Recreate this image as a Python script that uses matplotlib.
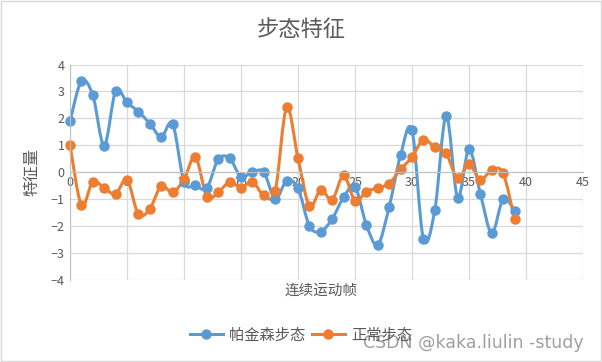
import numpy as np
import matplotlib
matplotlib.use("Agg")
import matplotlib.pyplot as plt
from matplotlib.path import Path
from matplotlib.patches import PathPatch, Rectangle
from matplotlib.lines import Line2D

plt.rcParams["font.family"] = ["Noto Sans CJK SC", "DejaVu Sans"]

frames = list(range(40))
parkinson = [1.90, 3.38, 2.86, 0.99, 3.01, 2.59, 2.25, 1.81, 1.31, 1.80,
             -0.35, -0.49, -0.59, 0.48, 0.52, -0.17, 0.02, 0.00, -0.99, -0.32,
             -0.59, -1.99, -2.20, -1.73, -0.93, -0.53, -1.96, -2.69, -1.28, 0.64,
             1.56, -2.47, -1.41, 2.10, -0.94, 0.86, -0.80, -2.26, -0.99, -1.42]
normal = [1.01, -1.22, -0.35, -0.59, -0.80, -0.28, -1.56, -1.36, -0.51, -0.75,
          -0.26, 0.57, -0.90, -0.75, -0.36, -0.57, -0.35, -0.86, -0.69, 2.41,
          0.52, -1.25, -0.65, -1.02, -0.12, -1.05, -0.72, -0.58, -0.42, 0.11,
          0.56, 1.21, 0.93, 0.70, -0.23, 0.30, -0.28, 0.09, -0.04, -1.75]
series_names = ["帕金森步态", "正常步态"]
colors = ["#5B9BD5", "#ED7D31"]
x_ticks = [0, 5, 10, 15, 20, 25, 30, 35, 40, 45]
y_ticks = [-4, -3, -2, -1, 0, 1, 2, 3, 4]

GRAY = "#595959"


def smooth_path(xs, ys):
    # Excel-style smoothed line: cubic bezier through every point
    p = np.column_stack([xs, ys]).astype(float)
    ext = np.vstack([p[0], p, p[-1]])
    verts = [p[0]]
    codes = [Path.MOVETO]
    for i in range(len(p) - 1):
        p0, p1, p2, p3 = ext[i], ext[i + 1], ext[i + 2], ext[i + 3]
        c1 = p1 + (p2 - p0) / 6
        c2 = p2 - (p3 - p1) / 6
        verts += [c1, c2, p2]
        codes += [Path.CURVE4] * 3
    return Path(verts, codes)


fig = plt.figure(figsize=(6.02, 3.62), dpi=100)
ax = fig.add_axes([0.1163, 0.2265, 0.8521, 0.5953])

for ys, c in zip([parkinson, normal], colors):
    ax.add_patch(PathPatch(smooth_path(frames, ys), fill=False, edgecolor=c,
                           lw=2.2, capstyle="round", joinstyle="round",
                           clip_on=False))
    ax.plot(frames, ys, ls="none", marker="o", ms=6.5, color=c, clip_on=False)

ax.set_xlim(0, 45)
ax.set_ylim(-4, 4)
ax.set_xticks(x_ticks)
ax.set_yticks(y_ticks)
ax.grid(True, color="#D9D9D9", lw=0.9)
ax.set_axisbelow(True)
for s in ["top", "right"]:
    ax.spines[s].set_visible(False)
ax.spines["bottom"].set_position(("data", 0))
ax.spines["bottom"].set_color("#BFBFBF")
ax.spines["left"].set_color("#BFBFBF")
ax.tick_params(length=0, labelsize=9, labelcolor=GRAY, pad=4)
ax.tick_params(axis="x", pad=3)

fig.text(0.5, 0.918, "步态特征", ha="center", va="center", fontsize=16,
         fontweight="light", color=GRAY)
fig.text(0.053, 0.525, "特征量", ha="center", va="center", rotation=90,
         fontsize=11.5, color=GRAY)
fig.text(0.534, 0.198, "连续运动帧", ha="center", va="center", fontsize=10.5,
         color=GRAY)

handles = [Line2D([], [], color=c, lw=2.2, marker="o", ms=6.5) for c in colors]
fig.legend(handles, series_names, loc="center", bbox_to_anchor=(0.5, 0.075),
           ncol=2, frameon=False, fontsize=11, labelcolor=GRAY,
           handlelength=2.2, handletextpad=0.4, columnspacing=0.4)

fig.text(0.787, 0.052, "CSDN @kaka.liulin -study", ha="center", va="center",
         fontsize=12.5, color="#7F7F7F", alpha=0.75, family=["DejaVu Sans"])

fig.patches.append(Rectangle((0.002, 0.003), 0.996, 0.994, transform=fig.transFigure,
                             fill=False, edgecolor="#D9D9D9", lw=1))

fig.savefig("out.png", dpi=100)
